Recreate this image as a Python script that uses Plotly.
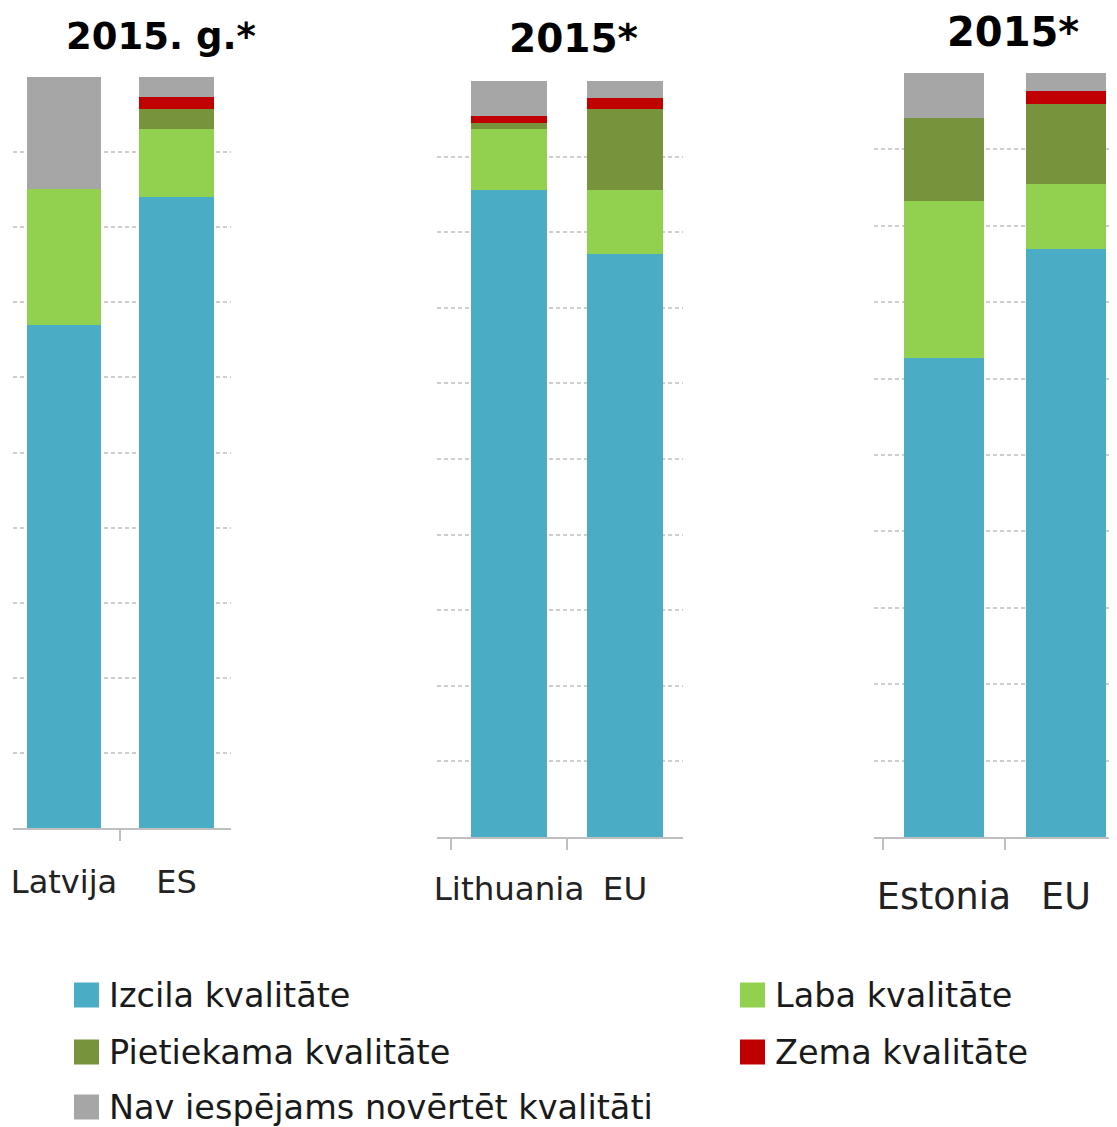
import plotly.graph_objects as go

# page body has an 8px margin, so the figure is sized to fit the window
OFF = 8
W, H = 1117 - OFF, 1127 - OFF

# ---------------- data ----------------
series_names = ["Izcila kvalitāte", "Laba kvalitāte", "Pietiekama kvalitāte",
                "Zema kvalitāte", "Nav iespējams novērtēt kvalitāti"]
series_colors = ["#4BACC6", "#92D050", "#77933C", "#C00000", "#A6A6A6"]

titles = ["2015. g.*", "2015*", "2015*"]

categories_lv = ["Latvija", "ES"]
izcila_lv = [67.0, 84.0]
laba_lv = [18.1, 9.1]
pietiekama_lv = [0.0, 2.6]
zema_lv = [0.0, 1.6]
nav_lv = [14.9, 2.7]

categories_lt = ["Lithuania", "EU"]
izcila_lt = [85.6, 77.1]
laba_lt = [8.0, 8.5]
pietiekama_lt = [0.8, 10.7]
zema_lt = [1.0, 1.5]
nav_lt = [4.6, 2.2]

categories_ee = ["Estonia", "EU"]
izcila_ee = [62.7, 77.0]
laba_ee = [20.5, 8.5]
pietiekama_ee = [10.9, 10.5]
zema_ee = [0.0, 1.7]
nav_ee = [5.9, 2.3]

panels = [
    (categories_lv, [izcila_lv, laba_lv, pietiekama_lv, zema_lv, nav_lv]),
    (categories_lt, [izcila_lt, laba_lt, pietiekama_lt, zema_lt, nav_lt]),
    (categories_ee, [izcila_ee, laba_ee, pietiekama_ee, zema_ee, nav_ee]),
]

# ---------------- layout geometry (window pixels) ----------------
def px_x(p):
    return (p - OFF) / W

def px_y(p):
    return 1 - (p - OFF) / H

geom = [
    dict(x0=13, x1=231, yt=77, yb=828, rng=[-0.453, 1.484], bw=0.66, fs=32, so=25),
    dict(x0=437, x1=683, yt=81, yb=837, rng=[-0.621, 1.5], bw=0.655, fs=32.5, so=22),
    dict(x0=874, x1=1117, yt=73, yb=837, rng=[-0.574, 1.418], bw=0.656, fs=36.5, so=26),
]
title_pos = [(161, 37, 37), (573, 38, 39), (1013, 32, 40)]

fig = go.Figure()

for i, ((cats, vals), g) in enumerate(zip(panels, geom)):
    n = "" if i == 0 else str(i + 1)
    for name, color, v in zip(series_names, series_colors, vals):
        fig.add_trace(go.Bar(
            x=cats, y=v, name=name, marker=dict(color=color, line=dict(width=0)),
            width=g["bw"], xaxis="x" + n, yaxis="y" + n, showlegend=False,
        ))
    fig.update_layout(**{
        "xaxis" + n: dict(
            domain=[px_x(g["x0"]), min(1.0, px_x(g["x1"]))], range=g["rng"],
            anchor="y" + n, type="category", categoryorder="array", categoryarray=cats,
            showline=True, linecolor="#BFBFBF", linewidth=2,
            ticks="outside", tickson="boundaries", ticklen=11, tickwidth=2,
            tickcolor="#BFBFBF", showgrid=False, ticklabelstandoff=g["so"],
            tickangle=0, automargin=False,
            tickfont=dict(family="DejaVu Sans", size=g["fs"], color="#222222"),
            fixedrange=True,
        ),
        "yaxis" + n: dict(
            domain=[px_y(g["yb"]), px_y(g["yt"])], range=[0, 100], anchor="x" + n,
            dtick=10, showticklabels=False, showline=False, zeroline=False,
            showgrid=True, gridcolor="#CFCFCF", gridwidth=1.5, griddash="4px,3px",
            automargin=False, fixedrange=True,
        ),
    })

annotations = []
for (cx, cy, fs), t in zip(title_pos, titles):
    annotations.append(dict(
        x=px_x(cx), y=px_y(cy), xref="paper", yref="paper", text="<b>" + t + "</b>",
        showarrow=False, xanchor="center", yanchor="middle",
        font=dict(family="DejaVu Sans", size=fs, color="#000000"),
    ))

# legend drawn manually (large squares)
legend_slots = [(74, 995), (740, 995), (74, 1052), (740, 1052), (74, 1107)]
shapes = []
for idx, (lx, ly) in enumerate(legend_slots):
    shapes.append(dict(
        type="rect", xref="paper", yref="paper",
        x0=px_x(lx), x1=px_x(lx + 25), y0=px_y(ly + 12.5), y1=px_y(ly - 12.5),
        fillcolor=series_colors[idx], line=dict(width=0),
    ))
    annotations.append(dict(
        x=px_x(lx + 33), y=px_y(ly), xref="paper", yref="paper",
        text=series_names[idx], showarrow=False, xanchor="left", yanchor="middle",
        font=dict(family="DejaVu Sans", size=33.5, color="#1A1A1A"),
    ))

fig.update_layout(
    width=W, height=H, margin=dict(l=0, r=0, t=0, b=0, autoexpand=False),
    paper_bgcolor="white", plot_bgcolor="white",
    barmode="stack", showlegend=False,
    annotations=annotations, shapes=shapes,
)

fig.write_html("out.html")
